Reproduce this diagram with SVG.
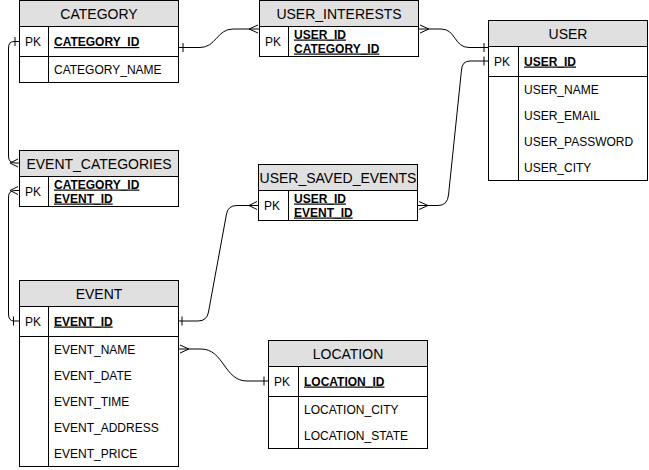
<svg xmlns="http://www.w3.org/2000/svg" width="649" height="470" viewBox="0 0 649 470">
<style>
.box{fill:#ffffff;stroke:#000000;stroke-width:1}
.hdr{fill:#e0e0e0;stroke:#000000;stroke-width:1}
.ln{stroke:#000000;stroke-width:1;fill:none}
.title{font-family:"Liberation Sans",Arial,sans-serif;font-size:14px;fill:#000;text-anchor:middle}
.t{font-family:"Liberation Sans",Arial,sans-serif;font-size:12px;fill:#000}
.k{font-family:"Liberation Sans",Arial,sans-serif;font-size:12px;font-weight:bold;fill:#000;text-decoration:underline}
.c{stroke:#000000;stroke-width:1;fill:none}
</style>
<rect width="649" height="470" fill="#ffffff"/>

<g id="connectors">
  <!-- CATEGORY -> USER_INTERESTS -->
  <path class="c" d="M179,47.5 H200 C216,47.5 217,29 233,29 H259"/>
  <path class="c" d="M183,43 V52"/>
  <path class="c" d="M258,25 L249,29 L258,33"/>
  <!-- USER_INTERESTS -> USER -->
  <path class="c" d="M419,29 H441 C456,29 454,47.5 469,47.5 H488"/>
  <path class="c" d="M420,25 L429,29 L420,33"/>
  <path class="c" d="M484,43 V52"/>
  <!-- USER -> USER_SAVED_EVENTS -->
  <path class="c" d="M488,61 H470 Q462,61 461.5,70 L448.5,195 Q447.5,205.5 438,205.5 H418"/>
  <path class="c" d="M484,56.5 V65.5"/>
  <path class="c" d="M419,201.5 L428,205.5 L419,209.5"/>
  <!-- CATEGORY -> EVENT_CATEGORIES -->
  <path class="c" d="M19,41.5 H14 Q8.5,41.5 8.5,48 V156 Q8.5,163 15,163 H19"/>
  <path class="c" d="M15,37 V46"/>
  <path class="c" d="M18,159 L10,163 L18,167"/>
  <!-- EVENT -> EVENT_CATEGORIES -->
  <path class="c" d="M19,321 H14 Q8.5,321 8.5,314 V197 Q8.5,190.5 15,190.5 H19"/>
  <path class="c" d="M13.5,316.5 V325.5"/>
  <path class="c" d="M18,186.5 L10,190.5 L18,194.5"/>
  <!-- EVENT -> USER_SAVED_EVENTS -->
  <path class="c" d="M179,321 H198 Q207,321 208.5,312 L226.5,214 Q228,205.5 237,205.5 H258"/>
  <path class="c" d="M182,316.5 V325.5"/>
  <path class="c" d="M257,201.5 L249,205.5 L257,209.5"/>
  <!-- EVENT -> LOCATION -->
  <path class="c" d="M179,349 H201 C224,349 224,381 247,381 H268"/>
  <path class="c" d="M180,345 L189,349 L180,353"/>
  <path class="c" d="M264,376.5 V385.5"/>
</g>

<g id="CATEGORY">
  <rect class="box" x="19.5" y="0.5" width="159" height="82"/>
  <rect class="hdr" x="19.5" y="0.5" width="159" height="26"/>
  <line class="ln" x1="19.5" y1="56.5" x2="178.5" y2="56.5"/>
  <line class="ln" x1="48.5" y1="26.5" x2="48.5" y2="82.5"/>
  <text class="title" x="99" y="19">CATEGORY</text>
  <text class="t" x="25" y="46">PK</text>
  <text class="k" x="54" y="46">CATEGORY_ID</text>
  <text class="t" x="54" y="74">CATEGORY_NAME</text>
</g>

<g id="USER_INTERESTS">
  <rect class="box" x="259.5" y="0.5" width="159" height="56"/>
  <rect class="hdr" x="259.5" y="0.5" width="159" height="26"/>
  <line class="ln" x1="288.5" y1="26.5" x2="288.5" y2="56.5"/>
  <text class="title" x="339" y="19">USER_INTERESTS</text>
  <text class="t" x="265" y="46">PK</text>
  <text class="k" x="294" y="38.5">USER_ID</text>
  <text class="k" x="294" y="52.5">CATEGORY_ID</text>
</g>

<g id="USER">
  <rect class="box" x="488.5" y="20.5" width="159" height="160"/>
  <rect class="hdr" x="488.5" y="20.5" width="159" height="26"/>
  <line class="ln" x1="488.5" y1="76.5" x2="647.5" y2="76.5"/>
  <line class="ln" x1="518.5" y1="46.5" x2="518.5" y2="180.5"/>
  <text class="title" x="568" y="39">USER</text>
  <text class="t" x="494" y="65.5">PK</text>
  <text class="k" x="524" y="65.5">USER_ID</text>
  <text class="t" x="524" y="93.5">USER_NAME</text>
  <text class="t" x="524" y="119.5">USER_EMAIL</text>
  <text class="t" x="524" y="145.5">USER_PASSWORD</text>
  <text class="t" x="524" y="171.5">USER_CITY</text>
</g>

<g id="EVENT_CATEGORIES">
  <rect class="box" x="19.5" y="150.5" width="159" height="56"/>
  <rect class="hdr" x="19.5" y="150.5" width="159" height="26"/>
  <line class="ln" x1="48.5" y1="176.5" x2="48.5" y2="206.5"/>
  <text class="title" x="99" y="169">EVENT_CATEGORIES</text>
  <text class="t" x="25" y="196">PK</text>
  <text class="k" x="54" y="188.5">CATEGORY_ID</text>
  <text class="k" x="54" y="202.5">EVENT_ID</text>
</g>

<g id="USER_SAVED_EVENTS">
  <rect class="box" x="258.5" y="164.5" width="159" height="56"/>
  <rect class="hdr" x="258.5" y="164.5" width="159" height="26"/>
  <line class="ln" x1="288.5" y1="190.5" x2="288.5" y2="220.5"/>
  <text class="title" x="338" y="183">USER_SAVED_EVENTS</text>
  <text class="t" x="264" y="210">PK</text>
  <text class="k" x="294" y="202.5">USER_ID</text>
  <text class="k" x="294" y="216.5">EVENT_ID</text>
</g>

<g id="EVENT">
  <rect class="box" x="19.5" y="280.5" width="159" height="186"/>
  <rect class="hdr" x="19.5" y="280.5" width="159" height="26"/>
  <line class="ln" x1="19.5" y1="336.5" x2="178.5" y2="336.5"/>
  <line class="ln" x1="48.5" y1="306.5" x2="48.5" y2="466.5"/>
  <text class="title" x="99" y="299">EVENT</text>
  <text class="t" x="25" y="325.5">PK</text>
  <text class="k" x="54" y="325.5">EVENT_ID</text>
  <text class="t" x="54" y="353.5">EVENT_NAME</text>
  <text class="t" x="54" y="379.5">EVENT_DATE</text>
  <text class="t" x="54" y="405.5">EVENT_TIME</text>
  <text class="t" x="54" y="431.5">EVENT_ADDRESS</text>
  <text class="t" x="54" y="457.5">EVENT_PRICE</text>
</g>

<g id="LOCATION">
  <rect class="box" x="268.5" y="340.5" width="159" height="108"/>
  <rect class="hdr" x="268.5" y="340.5" width="159" height="26"/>
  <line class="ln" x1="268.5" y1="396.5" x2="427.5" y2="396.5"/>
  <line class="ln" x1="298.5" y1="366.5" x2="298.5" y2="448.5"/>
  <text class="title" x="348" y="359">LOCATION</text>
  <text class="t" x="274" y="385.5">PK</text>
  <text class="k" x="304" y="385.5">LOCATION_ID</text>
  <text class="t" x="304" y="413.5">LOCATION_CITY</text>
  <text class="t" x="304" y="439.5">LOCATION_STATE</text>
</g>
</svg>
